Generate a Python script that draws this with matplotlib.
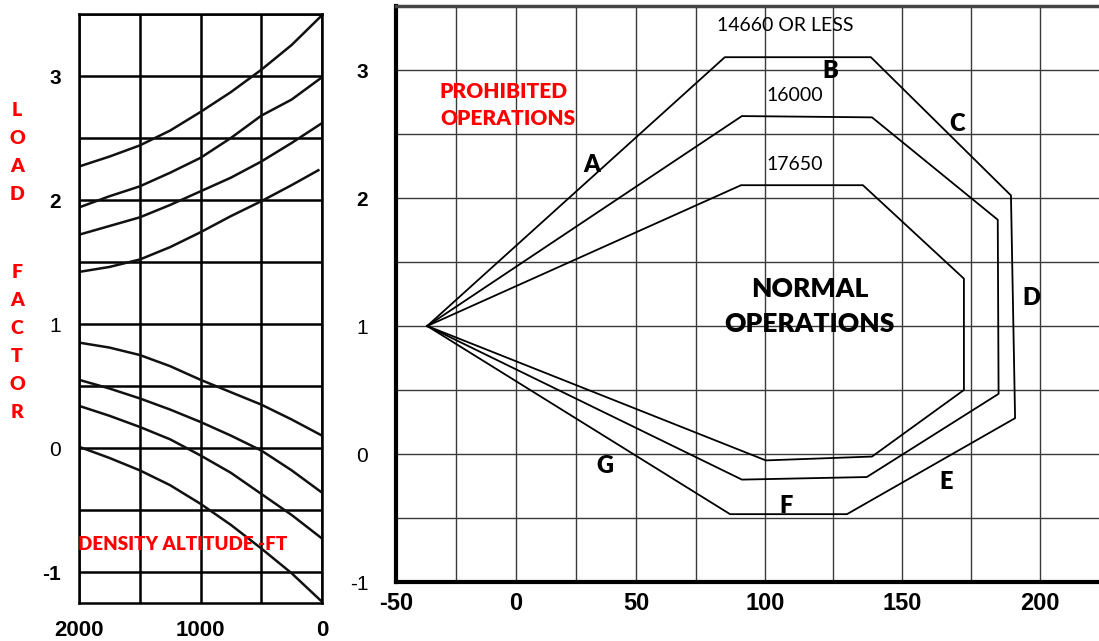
import numpy as np
import matplotlib.pyplot as plt
from matplotlib.ticker import MultipleLocator

# --- density altitude correction curves (left chart) ---
altitude = [2000, 1750, 1500, 1250, 1000, 750, 500, 250, 0]
altitude_short = [2000, 1750, 1500, 1250, 1000, 750, 500, 250, 30]
upper_1 = [2.27, 2.35, 2.44, 2.56, 2.71, 2.87, 3.05, 3.25, 3.49]
upper_2 = [1.94, 2.03, 2.11, 2.22, 2.34, 2.50, 2.68, 2.81, 2.99]
upper_3 = [1.72, 1.79, 1.86, 1.96, 2.07, 2.18, 2.31, 2.46, 2.62]
upper_4 = [1.42, 1.46, 1.52, 1.62, 1.74, 1.87, 1.99, 2.12, 2.24]
lower_1 = [0.85, 0.81, 0.75, 0.66, 0.55, 0.45, 0.35, 0.23, 0.10]
lower_2 = [0.55, 0.48, 0.40, 0.31, 0.21, 0.10, -0.02, -0.18, -0.36]
lower_3 = [0.34, 0.26, 0.17, 0.07, -0.06, -0.20, -0.37, -0.54, -0.73]
lower_4 = [0.01, -0.08, -0.18, -0.30, -0.45, -0.62, -0.81, -1.01, -1.24]

alt_ticks = [2000, 1000, 0]
load_ticks = [3, 2, 1, 0, -1]

# --- V-n envelopes per gross weight (right chart), closed at the 1g apex ---
speed_14660 = [-37, 85.5, 138.6, 189.5, 191.0, 129.9, 87.4, -37]
n_14660 = [1.0, 3.10, 3.10, 2.02, 0.28, -0.47, -0.47, 1.0]
speed_16000 = [-37, 91.7, 139.0, 184.7, 185.0, 137.1, 91.7, -37]
n_16000 = [1.0, 2.64, 2.63, 1.83, 0.47, -0.18, -0.20, 1.0]
speed_17650 = [-37, 91.4, 135.7, 172.4, 172.4, 139.0, 100.4, -37]
n_17650 = [1.0, 2.10, 2.10, 1.37, 0.50, -0.02, -0.05, 1.0]

speed_ticks = [-50, 0, 50, 100, 150, 200]
weight_labels = ["14660 OR LESS", "16000", "17650"]

RED = "#ff0000"
TICK_FONT = "Liberation Sans"
TEXT_FONT = "Lato"

fig = plt.figure(figsize=(10.99, 6.41), dpi=100)

# ---------------- left chart ----------------
axl = fig.add_axes([79 / 1099, 1 - 603 / 641, 243 / 1099, 589 / 641])
axl.set_xlim(2000, 0)
axl.set_ylim(-1.25, 3.5)
axl.xaxis.set_minor_locator(MultipleLocator(500))
axl.yaxis.set_minor_locator(MultipleLocator(0.5))
axl.grid(True, which="both", color="black", lw=1.8)
axl.set_axisbelow(True)
for sp in axl.spines.values():
    sp.set_linewidth(1.8)

for y in (upper_1, upper_2, upper_3):
    axl.plot(altitude, y, color="#111111", lw=1.8)
axl.plot(altitude_short, upper_4, color="#111111", lw=1.8)
for y in (lower_1, lower_2, lower_3, lower_4):
    axl.plot(altitude, y, color="#111111", lw=1.8)

axl.set_xticks(alt_ticks)
axl.set_xticklabels([str(a) for a in alt_ticks], fontfamily=TICK_FONT,
                    fontweight="bold", fontsize=16)
axl.tick_params(axis="x", which="both", length=0, pad=12)
axl.set_yticks(load_ticks)
axl.set_yticklabels([str(v) for v in load_ticks], fontfamily=TICK_FONT,
                    fontsize=15)
axl.tick_params(axis="y", which="both", length=0, pad=13)
for lbl in axl.get_yticklabels():
    if lbl.get_text() in ("3", "2", "-1"):
        lbl.set_fontweight("bold")

axl.text(1144, -0.78, "DENSITY ALTITUDE -FT", color=RED, fontfamily=TEXT_FONT,
         fontweight="heavy", fontsize=13.5, ha="center", va="center")

# vertical "LOAD FACTOR" caption
for i, ch in enumerate("LOAD"):
    fig.text(17 / 1099, 1 - (111 + 28 * i) / 641, ch, color=RED,
             fontfamily=TEXT_FONT, fontweight="heavy", fontsize=14,
             ha="center", va="center")
for i, ch in enumerate("FACTOR"):
    fig.text(17 / 1099, 1 - (272 + 28 * i) / 641, ch, color=RED,
             fontfamily=TEXT_FONT, fontweight="heavy", fontsize=14,
             ha="center", va="center")


# ---------------- right chart ----------------
# speed axis is drawn stretched above 75 kt, as on the flight manual chart
def fwd(x):
    x = np.asarray(x, dtype=float)
    return np.where(x < 75, (x - 75) * 2.4, (x - 75) * 2.752)


def inv(y):
    y = np.asarray(y, dtype=float)
    return np.where(y < 0, y / 2.4 + 75, y / 2.752 + 75)


axr = fig.add_axes([396 / 1099, 1 - 582 / 641, 703 / 1099, 576 / 641])
axr.set_xscale("function", functions=(fwd, inv))
axr.set_xlim(-50, 221.5)
axr.set_ylim(-1, 3.5)
axr.set_xticks(speed_ticks)
axr.xaxis.set_minor_locator(MultipleLocator(25))
axr.yaxis.set_minor_locator(MultipleLocator(0.5))
axr.grid(True, which="both", color="#3a3a3a", lw=1.0)
axr.set_axisbelow(True)

axr.spines["left"].set_linewidth(3)
axr.spines["bottom"].set_linewidth(3)
axr.spines["top"].set_linewidth(2.5)
axr.spines["top"].set_color("#444444")
axr.spines["right"].set_visible(False)

axr.set_xticklabels([str(s) for s in speed_ticks], fontfamily=TICK_FONT,
                    fontweight="bold", fontsize=17)
axr.set_yticks(load_ticks)
axr.set_yticklabels([str(v) for v in load_ticks], fontfamily=TICK_FONT,
                    fontsize=15)
for lbl in axr.get_yticklabels():
    if lbl.get_text() in ("3", "2"):
        lbl.set_fontweight("bold")
axr.tick_params(axis="x", which="both", length=0, pad=7)
axr.tick_params(axis="y", which="both", length=0, pad=20)

for s, n in ((speed_14660, n_14660), (speed_16000, n_16000),
             (speed_17650, n_17650)):
    axr.plot(s, n, color="black", lw=1.3)

label_xy = [(107.3, 3.35), (111, 2.80), (111, 2.26)]
for txt, (x, y) in zip(weight_labels, label_xy):
    axr.text(x, y, txt, fontfamily=TEXT_FONT, fontsize=14, ha="center",
             va="center")

segment_letters = {"A": (31.7, 2.26), "B": (124, 2.99), "C": (169.8, 2.58),
                   "D": (197.1, 1.22), "E": (165.8, -0.22), "F": (107.7, -0.41),
                   "G": (37.1, -0.09)}
for ch, (x, y) in segment_letters.items():
    axr.text(x, y, ch, fontfamily=TEXT_FONT, fontweight="heavy", fontsize=17,
             ha="center", va="center")

axr.text(116.4, 1.155, "NORMAL\nOPERATIONS", fontfamily=TEXT_FONT,
         fontweight="heavy", fontsize=19, ha="center", va="center",
         linespacing=1.55)
axr.text(-31.7, 2.73, "PROHIBITED\nOPERATIONS", color=RED,
         fontfamily=TEXT_FONT, fontweight="heavy", fontsize=15, ha="left",
         va="center", linespacing=1.5)

fig.savefig("out.png", dpi=100)
